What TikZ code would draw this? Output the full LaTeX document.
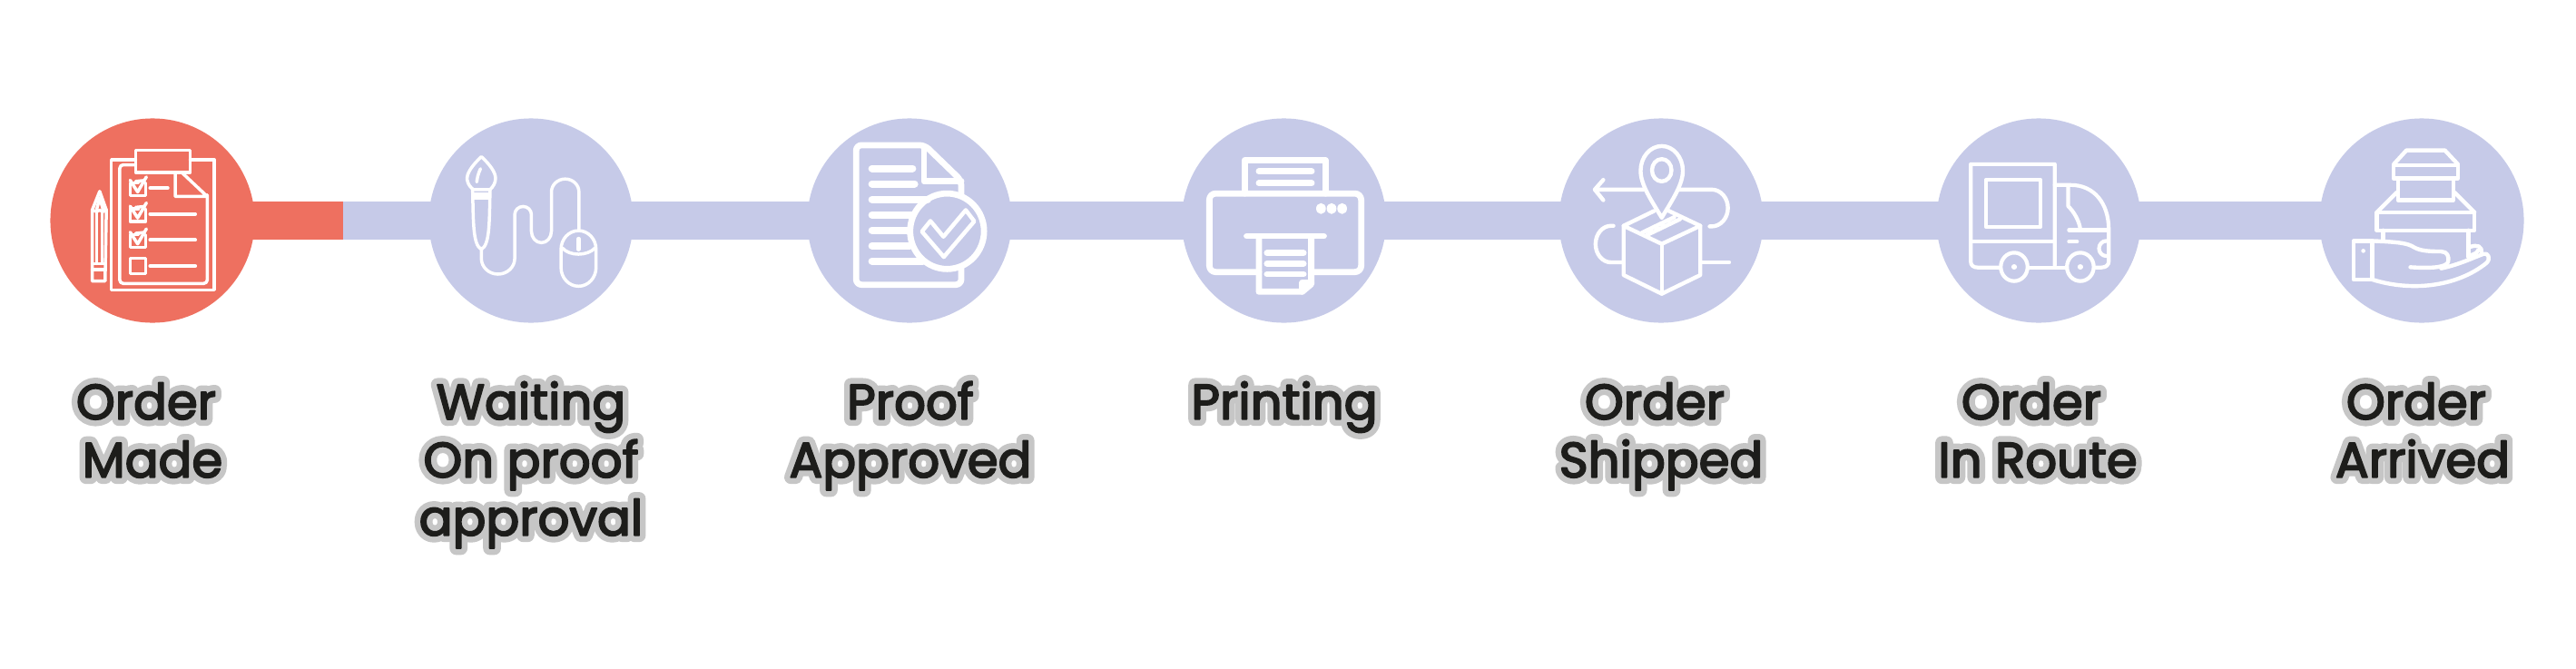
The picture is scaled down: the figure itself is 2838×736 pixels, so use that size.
\documentclass[tikz,border=0pt]{standalone}
\usepackage{fontspec}
\setmainfont{Poppins}
\newfontface\inkface{Poppins}[FakeBold=3.4]
\newfontface\haloface{Poppins}[FakeBold=27]
\definecolor{redc}{HTML}{EE7060}
\definecolor{lavc}{HTML}{C6CAE8}
\definecolor{inkc}{HTML}{1D1D1B}
\definecolor{haloc}{HTML}{C6C6C6}
\tikzset{
 dot/.style={circle,fill=#1,minimum size=2.25cm,inner sep=0pt,outer sep=0pt,draw=none},
 barline/.style={line width=0.423cm,draw=#1},
 ic/.style={draw=white,line width=#1*0.01cm,line join=round,line cap=round},
 za/.style={shift={(0,100)},x=0.004591cm,y=-0.003333cm},
 zb/.style={shift={(860,100)},x=0.004464cm,y=-0.003333cm},
 zc/.style={shift={(1680,100)},x=0.004464cm,y=-0.003333cm},
 zd/.style={shift={(2380,100)},x=0.003333cm,y=-0.003333cm},
 lab/.style={anchor=north,align=center,inner sep=0pt,outer sep=0pt,
   execute at begin node={\special{pdf:code 1 j 1 J}}},
 halotext/.style={lab,text=haloc,font=\haloface\fontsize{15.5}{18.2}\selectfont},
 inktext/.style={lab,text=inkc,font=\inkface\fontsize{15.5}{18.2}\selectfont},
}
\newcommand{\twolab}[3]{%
 \node[halotext] (#1h) at (#2,417) {#3};
 \node[inktext] (#1) at (#2,417) {#3};}
\newcommand{\ok}{\kern0.14cm}
\begin{document}
\begin{tikzpicture}[x=0.01cm,y=-0.01cm]
\useasboundingbox (0,0) rectangle (2838,736);
\fill[white] (0,0) rectangle (2838,736);
% circles
\node[dot=redc] (c1) at (168,243) {};
\node[dot=lavc] (c2) at (585,243) {};
\node[dot=lavc] (c3) at (1002,243) {};
\node[dot=lavc] (c4) at (1414.5,243) {};
\node[dot=lavc] (c5) at (1830,243) {};
\node[dot=lavc] (c6) at (2246,243) {};
\node[dot=lavc] (c7) at (2668,243) {};
\coordinate (split) at (378,243);
% connectors
\draw[barline=lavc] (split) -- (c2.center);
\draw[barline=lavc] (c2.center) -- (c3.center);
\draw[barline=lavc] (c3.center) -- (c4.center);
\draw[barline=lavc] (c4.center) -- (c5.center);
\draw[barline=lavc] (c5.center) -- (c6.center);
\draw[barline=lavc] (c6.center) -- (c7.center);
\draw[barline=redc] (c1.center) -- (split);
% icon 1 : checklist
\begin{scope}[za]
\begin{scope}[ic=3.5]
\draw (239,333) -- (221,395) -- (221,630) -- (252,630) -- (255,395) -- cycle;
\draw (221,395) -- (232,400) -- (239,395) -- (247,400) -- (255,395);
\draw (232,392) -- (239,355) -- (247,392);
\draw (232,400) -- (232,572) (245,400) -- (245,572);
\draw (221,572) -- (252,572) (221,592) -- (252,592);
\draw (325,228) -- (267,228) -- (267,659) -- (514,659) -- (514,228) -- (456,228);
\draw (325,197) rectangle (456,270);
\draw[rounded corners=0.04cm] (325,245) -- (287,245) -- (287,638) -- (497,638) -- (497,345);
\draw (420,272) -- (420,350) -- (497,350) -- (437,272);
\foreach \yy in {0,86,172}{
 \draw (332,\yy+305) -- (312,\yy+305) -- (312,\yy+347) -- (349,\yy+347) -- (349,\yy+305);
 \draw (312,\yy+296) -- (330,\yy+335) -- (351,\yy+285);
 \draw (325,\yy+300) -- (345,\yy+297);
}
\draw (312,555) rectangle (349,605);
\end{scope}
\draw[ic=4] (360,322) -- (402,322);
\draw[ic=4] (360,408) -- (468,408);
\draw[ic=4] (360,494) -- (468,494);
\draw[ic=4] (360,580) -- (468,580);
\end{scope}
% icon 2 : brush and mouse
\begin{scope}[za,ic=3.5]
\draw (1154,218) .. controls (1130,250) and (1118,275) .. (1120,295) .. controls (1122,310) and (1128,320) .. (1135,327) -- (1175,327) .. controls (1182,318) and (1188,305) .. (1188,290) .. controls (1188,270) and (1175,245) .. (1154,218);
\draw (1152,258) .. controls (1146,275) and (1144,290) .. (1143,302);
\draw (1135,343) -- (1172,343) (1135,354) -- (1172,354);
\draw (1133,327) .. controls (1135,430) and (1133,510) .. (1154,525) .. controls (1175,510) and (1173,430) .. (1175,327);
\draw (1154,525) -- (1154,555) arc[start angle=180,end angle=0,x radius=40,y radius=52] -- (1234,410) arc[start angle=180,end angle=360,x radius=20,y radius=27] -- (1274,465) arc[start angle=180,end angle=0,x radius=24,y radius=38] -- (1322,335) arc[start angle=180,end angle=360,x radius=33,y radius=43] -- (1388,460);
\draw (1345,525) arc[start angle=180,end angle=360,x radius=42,y radius=62] -- (1429,585) arc[start angle=0,end angle=180,x radius=42,y radius=62] -- cycle;
\draw (1348,520) .. controls (1365,548) and (1408,548) .. (1427,520);
\draw[line width=0.045cm] (1387,490) -- (1387,525);
\end{scope}
% icon 3 : document
\begin{scope}[zb]
\begin{scope}[ic=6.8]
\draw[rounded corners=0.06cm] (445,345) -- (445,297) -- (355,180) -- (186,180) -- (186,642) -- (445,642) -- (445,585);
\draw (353,185) -- (353,300) -- (445,300);
\draw (410,465) ellipse [x radius=91,y radius=125];
\end{scope}
\foreach \ya/\xb in {257/325,308/330,360/362,411/326,462/312,513/318,564/350}{
 \draw[ic=8] (225,\ya) -- (\xb,\ya);
}
\draw[ic=4.5] (456,395) -- (477,432) -- (402,550) -- (348,466) -- (369,431) -- (401,483) -- cycle;
\end{scope}
% icon 4 : printer
\begin{scope}[zb,ic=6.8]
\draw (1143,340) -- (1143,230) -- (1342,230) -- (1342,340);
\draw (1178,267) -- (1308,267) (1178,306) -- (1308,306);
\draw[rounded corners=0.07cm] (1178,600) -- (1056,600) -- (1056,340) -- (1430,340) -- (1430,600) -- (1307,600);
\fill[white] (1331,390) ellipse [x radius=12,y radius=18];
\fill[white] (1357,390) ellipse [x radius=12,y radius=18];
\fill[white] (1383,390) ellipse [x radius=12,y radius=18];
\draw (1148,481) -- (1338,481);
\draw (1178,490) -- (1178,665) -- (1285,665) -- (1307,640) -- (1307,490);
\draw (1198,537) -- (1288,537) (1198,572) -- (1288,572) (1198,607) -- (1288,607);
\draw (1285,665) -- (1285,635) -- (1307,635);
\end{scope}
% icon 5 : parcel and pin
\begin{scope}[zc,ic=4.4]
\draw (337,420) .. controls (310,360) and (285,310) .. (285,265) arc[start angle=180,end angle=360,x radius=52,y radius=82] .. controls (389,310) and (364,360) .. (337,420);
\draw (337,263) ellipse [x radius=24,y radius=37];
\draw (292,327) -- (172,327) (193,295) -- (172,327) -- (193,362);
\draw (380,327) -- (460,327) arc[start angle=-90,end angle=90,x radius=40,y radius=61] -- (455,449);
\draw (218,447) -- (212,447) arc[start angle=-90,end angle=-270,x radius=38,y radius=60.5] -- (243,568);
\draw (432,568) -- (503,568);
\draw (318,398) -- (243,447) -- (337,507) -- (432,447) -- (352,396);
\draw (288,470) -- (368,418) (300,478) -- (382,425);
\draw (243,447) -- (243,610) -- (337,672) -- (432,610) -- (432,447);
\draw (337,507) -- (337,672);
\end{scope}
% icon 6 : truck
\begin{scope}[zc,ic=4.2]
\draw (1305,578) -- (1305,243) -- (1098,243) -- (1098,565) .. controls (1098,578) and (1105,585) .. (1115,585) -- (1170,585);
\draw (1240,585) -- (1335,585);
\draw (1405,585) -- (1420,585) .. controls (1432,585) and (1438,575) .. (1438,565) -- (1438,460) .. controls (1438,370) and (1400,312) .. (1345,312) -- (1305,312);
\draw (1098,499) -- (1305,499);
\draw (1135,295) rectangle (1270,450);
\draw (1338,318) -- (1338,382) .. controls (1352,400) and (1365,430) .. (1368,458);
\draw (1340,461) -- (1436,461);
\draw (1340,499) -- (1360,499);
\draw (1205,583) ellipse [x radius=33,y radius=47];
\draw (1368,583) ellipse [x radius=33,y radius=47];
\fill[white] (1205,583) ellipse [x radius=7,y radius=9];
\fill[white] (1368,583) ellipse [x radius=7,y radius=9];
\draw (1432,497) arc[start angle=-90,end angle=-270,x radius=18,y radius=25];
\end{scope}
% icon 7 : hand and parcels
\begin{scope}[zd,ic=4.4]
\draw (773,243) -- (815,197) -- (942,197) -- (985,243);
\draw (772,247) rectangle (985,290);
\draw (787,290) -- (787,362) -- (970,362) -- (970,290);
\draw (782,337) -- (717,402) (975,337) -- (1040,402);
\draw (717,402) rectangle (1040,462);
\draw (738,462) -- (738,495) (1020,462) -- (1020,550);
\draw (640,497) rectangle (702,625);
\fill[white] (672,530) circle [radius=7];
\draw (702,497) -- (745,499) .. controls (790,502) and (820,505) .. (840,518) .. controls (860,530) and (890,532) .. (930,532) .. controls (950,532) and (957,550) .. (953,565) .. controls (950,580) and (920,590) .. (828,584);
\draw (702,625) .. controls (830,665) and (980,650) .. (1080,570) .. controls (1095,555) and (1085,535) .. (1070,540) .. controls (1030,555) and (990,575) .. (930,588);
\draw (1025,517) .. controls (1050,508) and (1065,515) .. (1063,535);
\draw (1025,545) .. controls (1040,542) and (1050,535) .. (1052,528);
\end{scope}
% labels
\twolab{t1}{168}{\strut Order\ok\\Made}
\twolab{t2}{585}{\strut Waiting\\On proof\\approval}
\twolab{t3}{1003}{\strut Proof\\Approved}
\twolab{t4}{1415}{\strut Printing}
\twolab{t5}{1830}{\strut Order\ok\\Shipped}
\twolab{t6}{2245}{\strut Order\ok\\In Route}
\twolab{t7}{2669}{\strut Order\ok\\Arrived}
\end{tikzpicture}
\end{document}
